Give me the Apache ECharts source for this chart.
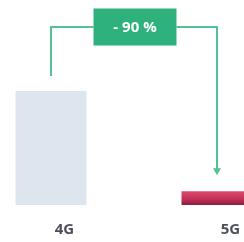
<!DOCTYPE html>
<html><head><meta charset="utf-8">
<script src="https://cdn.jsdelivr.net/npm/echarts@6/dist/echarts.min.js"></script>
<style>html,body{margin:0;padding:0;background:#fff}#c{width:244px;height:242px}</style>
</head><body><div id="c"></div>
<script>
const categories = ['4G', '5G'];
const values = [100, 12];
const changeLabel = '- 90 %';

const chart = echarts.init(document.getElementById('c'), null, {renderer: 'canvas'});
const green = '#2fb17e';
const lineGreen = '#52c194';
const option = {
  animation: false,
  grid: {left: 51, right: 27, top: 91, bottom: 37},
  xAxis: {
    type: 'category', data: categories, boundaryGap: false,
    axisLine: {show: false}, axisTick: {show: false}, splitLine: {show: false},
    axisLabel: {color: '#4d4f5a', fontWeight: 'bold', fontSize: 15, fontFamily: 'Open Sans',
      margin: 17, padding: [0, 0, 0, 27]}
  },
  yAxis: {type: 'value', min: 0, max: 100, show: false, splitLine: {show: false}},
  series: [{
    type: 'bar', barWidth: 71, clip: false,
    data: values.map((v, i) => ({
      value: v,
      itemStyle: i === 0 ? {color: '#dde5ee'} : {
        color: new echarts.graphic.LinearGradient(0, 0, 0, 1, [
          {offset: 0, color: '#de4a6c'}, {offset: 0.6, color: '#c02e55'}, {offset: 1, color: '#8a1f3f'}
        ])
      }
    }))
  }]
};
chart.setOption(option);

const p0 = chart.convertToPixel({gridIndex: 0}, [0, values[0]]);
const p1 = chart.convertToPixel({gridIndex: 0}, [1, values[1]]);
const lineY = 27;
const boxW = 83, boxH = 37;
const boxCx = (p0[0] + p1[0]) / 2 + 1;
const boxX = boxCx - boxW / 2;
const lineStyle = {stroke: lineGreen, lineWidth: 2, fill: null};
const leftEndY = p0[1] - 15;
const arrowTip = p1[1] - 16;
chart.setOption({
  graphic: [
    {type: 'polyline', shape: {points: [[p0[0], leftEndY], [p0[0], lineY], [boxX, lineY]]}, style: lineStyle},
    {type: 'polyline', shape: {points: [[boxX + boxW, lineY], [p1[0], lineY], [p1[0], arrowTip - 4]]}, style: lineStyle},
    {type: 'polygon', shape: {points: [[p1[0] - 4, arrowTip - 7], [p1[0] + 4, arrowTip - 7], [p1[0], arrowTip]]}, style: {fill: lineGreen}},
    {type: 'rect', shape: {x: boxX, y: lineY - boxH / 2, width: boxW, height: boxH}, style: {fill: green}},
    {type: 'text', x: boxCx, y: lineY + 1, style: {text: changeLabel, fill: '#fff', fontSize: 15, fontWeight: 'bold',
      fontFamily: 'Open Sans', align: 'center', verticalAlign: 'middle'}}
  ]
});
</script></body></html>
